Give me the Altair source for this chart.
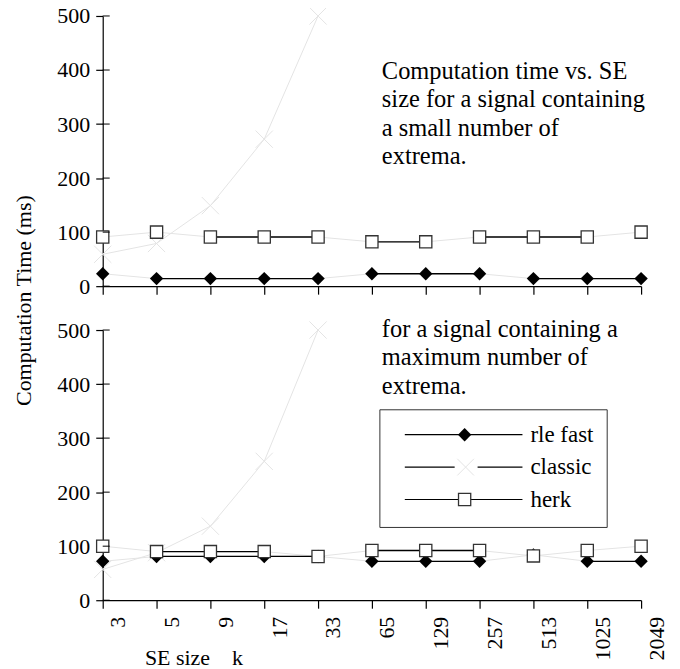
import altair as alt
import pandas as pd

# ---------------- data ----------------
k_labels = ["3", "5", "9", "17", "33", "65", "129", "257", "513", "1025", "2049"]
series_names = ["rle fast", "classic", "herk"]
y_ticks = [0, 100, 200, 300, 400, 500]

top_rle = [23, 14, 14, 14, 14, 23, 23, 23, 14, 14, 14]
top_classic = [59, 79, 149, 272, 500]
top_herk = [91, 100, 91, 91, 91, 82, 82, 91, 91, 91, 100]

bot_rle = [72, 81, 81, 81, 81, 72, 72, 72, 84, 72, 72]
bot_classic = [57, 88, 137, 257, 500]
bot_herk = [100, 90, 90, 90, 81, 92, 92, 92, 82, 92, 100]

top_note = ["Computation time vs. SE", "size for a signal containing",
            "a small number of", "extrema."]
bot_note = ["for a signal containing a", "maximum number of", "extrema."]

FONT = "Liberation Serif"
LIGHT = "#e4e4e4"
X_PATH = "M-1,-1L1,1M1,-1L-1,1"
W, H = 540, 271


def series_df(vals):
    return pd.DataFrame({"i": list(range(len(vals))), "v": vals})


def flat_segments(vals):
    rows = []
    for j in range(len(vals) - 1):
        if vals[j] == vals[j + 1]:
            rows.append({"i": j, "i2": j + 1, "v": vals[j]})
    return pd.DataFrame(rows, columns=["i", "i2", "v"])


label_expr = "[" + ",".join("'%s'" % s for s in k_labels) + "][datum.value]"


def panel(rle, classic, herk, note, note_y, bottom):
    if bottom:
        x_axis = alt.Axis(values=list(range(len(k_labels))), labelExpr=label_expr,
                          labelAngle=270, labelAlign="right", labelBaseline="middle",
                          labelOffset=15, labelPadding=8, labelFontSize=22,
                          labelColor="black", tickSize=8, tickColor="black",
                          domainColor="black", grid=False,
                          title="SE size\u00a0\u00a0\u00a0\u00a0k", titleFontSize=22,
                          titleFontWeight="normal", titleColor="black",
                          titleX=91, titleY=64, titleAlign="center",
                          titleBaseline="alphabetic", titleAngle=0)
        y_axis = alt.Axis(values=y_ticks, tickSize=7, labelPadding=6, labelFontSize=22,
                          labelColor="black", tickColor="black", domainColor="black",
                          grid=False, title="Computation Time (ms)", titleFontSize=22,
                          titleFontWeight="normal", titleColor="black",
                          titleX=-79, titleY=-30, titleAngle=270, titleAlign="center",
                          titleBaseline="middle")
    else:
        x_axis = alt.Axis(values=list(range(len(k_labels))), labels=False, tickSize=8,
                          tickColor="black", domainColor="black", grid=False, title=None)
        y_axis = alt.Axis(values=y_ticks, tickSize=7, labelPadding=6, labelFontSize=22,
                          labelColor="black", tickColor="black", domainColor="black",
                          grid=False, title=None)

    X = alt.X("i:Q", scale=alt.Scale(domain=[0, len(k_labels) - 1], nice=False, zero=False),
              axis=x_axis)
    Y = alt.Y("v:Q", scale=alt.Scale(domain=[0, 500], nice=False), axis=y_axis)

    classic_line = alt.Chart(series_df(classic)).mark_line(
        color=LIGHT, strokeWidth=1).encode(x=X, y=Y)
    rle_line = alt.Chart(series_df(rle)).mark_line(
        color=LIGHT, strokeWidth=1).encode(x=X, y=Y)
    herk_line = alt.Chart(series_df(herk)).mark_line(
        color=LIGHT, strokeWidth=1).encode(x=X, y=Y)
    rle_flat = alt.Chart(flat_segments(rle)).mark_rule(
        color="black", strokeWidth=1.3).encode(x=X, x2="i2:Q", y=Y)
    herk_flat = alt.Chart(flat_segments(herk)).mark_rule(
        color="black", strokeWidth=1.3).encode(x=X, x2="i2:Q", y=Y)
    classic_pts = alt.Chart(series_df(classic)).mark_point(
        shape=X_PATH, size=300, stroke=LIGHT, strokeWidth=1, filled=False,
        opacity=1).encode(x=X, y=Y)
    rle_pts = alt.Chart(series_df(rle)).mark_point(
        shape="diamond", size=180, filled=True, color="black", opacity=1).encode(x=X, y=Y)
    herk_pts = alt.Chart(series_df(herk)).mark_point(
        shape="square", size=150, filled=True, fill="white", stroke="#333333",
        strokeWidth=1.3, opacity=1).encode(x=X, y=Y)
    inner_ticks = alt.Chart(pd.DataFrame({"v": y_ticks})).mark_rule(
        color="black", strokeWidth=1).encode(y=Y, x=alt.value(0), x2=alt.value(7))
    text = alt.Chart(pd.DataFrame({"t": [note]})).mark_text(
        align="left", baseline="alphabetic", fontSize=24.5, lineHeight=28.5,
        color="black", font=FONT).encode(text="t", x=alt.value(280), y=alt.value(note_y))

    layers = [classic_line, rle_line, herk_line, rle_flat, herk_flat, classic_pts,
              rle_pts, herk_pts, inner_ticks, text]

    if bottom:
        leg_rows = [105, 137.5, 170]
        box = alt.Chart(pd.DataFrame({"a": [0]})).mark_rect(
            fill="white", stroke="#333333", strokeWidth=1).encode(
            x=alt.value(278), x2=alt.value(506), y=alt.value(80), y2=alt.value(198))
        layers.insert(8, box)
        for name, yy in zip(series_names, leg_rows):
            d = pd.DataFrame({"name": [name]})
            if name == "classic":
                layers.append(alt.Chart(d).mark_rule(color="black", strokeWidth=1.2).encode(
                    x=alt.value(303), x2=alt.value(353), y=alt.value(yy)))
                layers.append(alt.Chart(d).mark_rule(color="black", strokeWidth=1.2).encode(
                    x=alt.value(376), x2=alt.value(421), y=alt.value(yy)))
                layers.append(alt.Chart(d).mark_point(
                    shape=X_PATH, size=280, stroke=LIGHT, strokeWidth=1, filled=False,
                    opacity=1).encode(x=alt.value(364), y=alt.value(yy)))
            else:
                layers.append(alt.Chart(d).mark_rule(color="black", strokeWidth=1.2).encode(
                    x=alt.value(303), x2=alt.value(421), y=alt.value(yy)))
                if name == "rle fast":
                    layers.append(alt.Chart(d).mark_point(
                        shape="diamond", size=180, filled=True, color="black",
                        opacity=1).encode(x=alt.value(363), y=alt.value(yy)))
                else:
                    layers.append(alt.Chart(d).mark_point(
                        shape="square", size=150, filled=True, fill="white",
                        stroke="#333333", strokeWidth=1.3, opacity=1).encode(
                        x=alt.value(363), y=alt.value(yy)))
            layers.append(alt.Chart(d).mark_text(
                align="left", baseline="middle", fontSize=23, color="black",
                font=FONT).encode(text="name:N", x=alt.value(429), y=alt.value(yy)))

    return alt.layer(*layers).properties(width=W, height=H)


top = panel(top_rle, top_classic, top_herk, top_note, 63, False)
bottom = panel(bot_rle, bot_classic, bot_herk, bot_note, 7, True)

chart = alt.vconcat(top, bottom, spacing=44, bounds="flush").configure(
    font=FONT, padding={"left": 4, "top": -4, "right": 5, "bottom": 5}
).configure_view(stroke=None).configure_axis(domainWidth=1.2, tickWidth=1.2)

chart.save("out.html", embed_options={"renderer": "svg", "actions": False})
